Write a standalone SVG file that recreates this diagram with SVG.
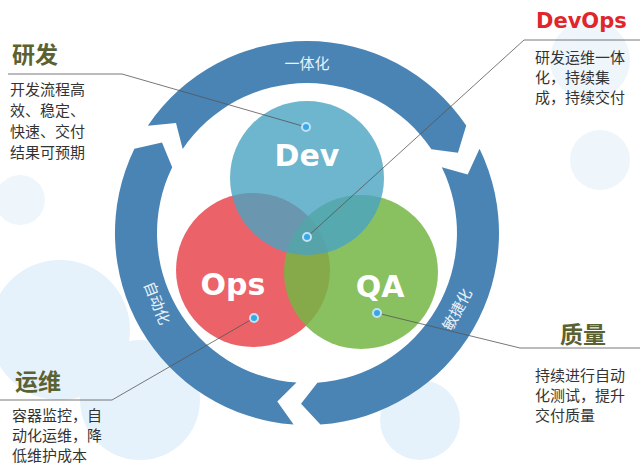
<svg xmlns="http://www.w3.org/2000/svg" width="640" height="464" viewBox="0 0 640 464">
<style>
.h{font-family:"Noto Sans CJK SC",sans-serif;font-weight:bold;font-size:23px;fill:#5b6232}
.t{font-family:"Noto Sans CJK SC",sans-serif;font-size:15px;fill:#333}
.ring{font-family:"Noto Sans CJK SC",sans-serif;font-size:15px;fill:#e8f2fa}
.big{font-family:"DejaVu Sans",sans-serif;font-weight:bold;font-size:30px;fill:#fff}
.seg{fill:#4a84b5}
.dot{fill:#3aa6e6;stroke:#bfe3f7;stroke-width:2}
.ln{stroke:#555;stroke-width:0.8;fill:none}
</style>
<defs>
<path id="s" d="M191.5 13.4 A192 192 0 0 1 -84.2 172.6 L-90.6 145 L-65.8 134.8 A150 150 0 0 0 149.6 10.5 L168.4 29.7 Z"/>
</defs>
<rect width="640" height="464" fill="#fff"/>
<g fill="#e6f2fb">
<circle cx="60" cy="330" r="70"/><circle cx="140" cy="400" r="60"/><circle cx="600" cy="160" r="30" fill="#eef6fc"/><circle cx="590" cy="60" r="40" fill="#eef6fc"/><circle cx="420" cy="420" r="40"/><circle cx="20" cy="200" r="25" fill="#eef6fc"/>
</g>
<g id="ring" transform="translate(307 233)">
<use href="#s" class="seg" transform="rotate(210)"/>
<use href="#s" class="seg" transform="rotate(330)"/>
<use href="#s" class="seg" transform="rotate(90)"/>
</g>
<text class="ring" x="307" y="69" text-anchor="middle">一体化</text>
<text class="ring" transform="translate(152 305) rotate(68)" text-anchor="middle">自动化</text>
<text class="ring" transform="translate(462 312) rotate(-62)" text-anchor="middle">敏捷化</text>
<g id="ops"><circle cx="253" cy="270" r="77" fill="#e8484e" opacity="0.85"/><text class="big" x="233" y="295" text-anchor="middle">Ops</text></g>
<g id="qa"><circle cx="361" cy="272" r="77" fill="#74b645" opacity="0.85"/><text class="big" x="380" y="297" text-anchor="middle">QA</text></g>
<g id="dev"><circle cx="307" cy="178" r="77" fill="#4aa2c2" opacity="0.8"/><text class="big" x="307" y="166" text-anchor="middle">Dev</text></g>
<g id="connectors">
<polyline class="ln" points="8,74 122,74 306,127"/>
<polyline class="ln" points="640,40 524,40 307,237"/>
<polyline class="ln" points="377,313 520,348 640,348"/>
<polyline class="ln" points="0,400 112,400 254,318"/>
</g>
<g id="dots">
<circle class="dot" cx="306" cy="127" r="4"/><circle class="dot" cx="307" cy="237" r="4"/><circle class="dot" cx="254" cy="318" r="4"/><circle class="dot" cx="377" cy="313" r="4"/>
</g>
<g id="rd"><text class="h" x="12" y="63">研发</text>
<text class="t" x="10" y="95">开发流程高</text><text class="t" x="10" y="116">效、稳定、</text><text class="t" x="10" y="137">快速、交付</text><text class="t" x="10" y="158">结果可预期</text></g>
<g id="devops"><text x="536" y="28" style="font-family:'DejaVu Sans',sans-serif;font-weight:bold;font-size:21px;fill:#e0262a">DevOps</text>
<text class="t" x="535" y="63">研发运维一体</text><text class="t" x="535" y="83">化，持续集</text><text class="t" x="535" y="103">成，持续交付</text></g>
<g id="zl"><text class="h" x="560" y="343">质量</text>
<text class="t" x="535" y="381">持续进行自动</text><text class="t" x="535" y="401">化测试，提升</text><text class="t" x="535" y="421">交付质量</text></g>
<g id="yw"><text class="h" x="15" y="390">运维</text>
<text class="t" x="12" y="421">容器监控，自</text><text class="t" x="12" y="441">动化运维，降</text><text class="t" x="12" y="461">低维护成本</text></g>
</svg>
